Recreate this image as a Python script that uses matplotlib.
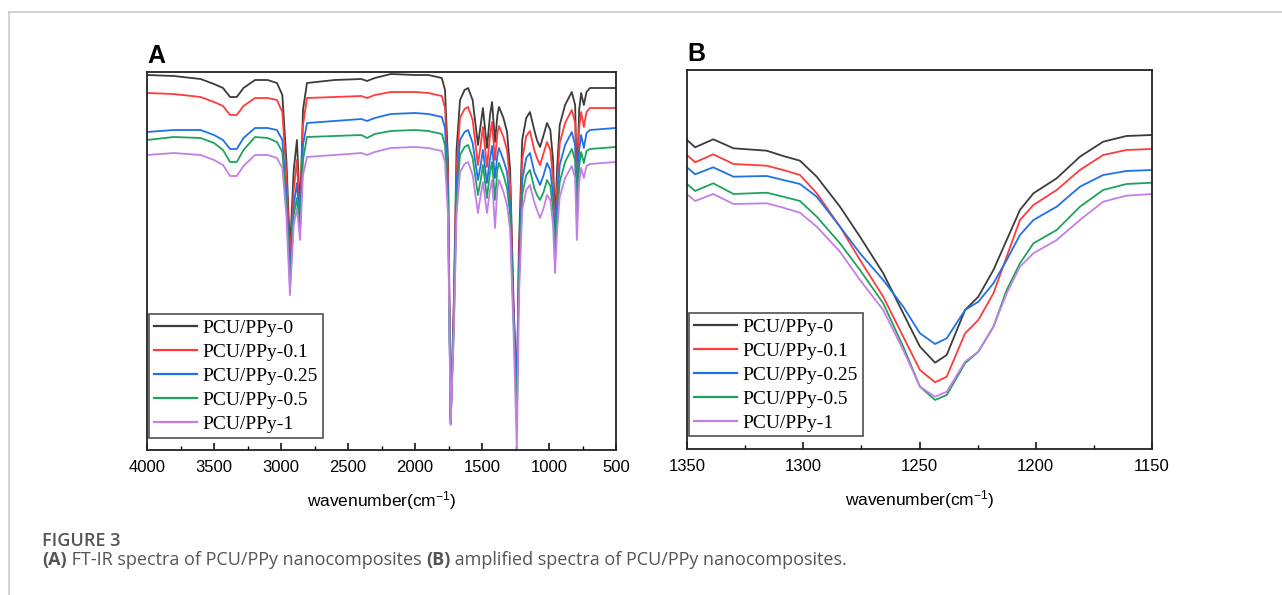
from __future__ import annotations

import matplotlib

matplotlib.use("Agg")
import matplotlib.pyplot as plt
from matplotlib.lines import Line2D
from matplotlib.ticker import MultipleLocator

# ---- data (transmittance in arbitrary units) ----
SERIES_LABELS = ["PCU/PPy-0", "PCU/PPy-0.1", "PCU/PPy-0.25", "PCU/PPy-0.5", "PCU/PPy-1"]
SERIES_COLORS = ["#3c3c3c", "#ff3b3b", "#1f72e6", "#1ea25c", "#c47fe6"]

# panel A: full FT-IR spectra
wavenumber_a = [
    4000, 3800, 3600, 3500, 3433, 3380, 3330, 3280, 3194, 3100,
    3030, 2990, 2960, 2933, 2905, 2881, 2858, 2836, 2806, 2600,
    2400, 2358, 2300, 2180, 2000, 1900, 1800, 1776, 1754, 1734,
    1710, 1690, 1664, 1630, 1604, 1570, 1530, 1510, 1493, 1463,
    1440, 1425, 1403, 1385, 1373, 1340, 1313, 1290, 1265, 1240,
    1225, 1200, 1170, 1142, 1110, 1090, 1067, 1040, 1015, 990,
    970, 955, 940, 920, 880, 830, 805, 792, 775, 760,
    740, 720, 694, 600, 500,
]
pcu_ppy_0_a = [
    375, 374, 371, 366, 362, 353, 353, 362, 370, 370,
    367, 355, 290, 200, 280, 310, 238, 340, 367, 370,
    371, 369, 372, 376, 375, 375, 372, 360, 290, 30,
    150, 300, 350, 360, 362, 350, 305, 325, 342, 302,
    335, 348, 308, 335, 343, 332, 318, 280, 150, 55,
    200, 310, 332, 338, 320, 310, 303, 315, 327, 320,
    290, 225, 280, 325, 345, 358, 345, 265, 340, 357,
    345, 358, 362, 362, 362,
]
pcu_ppy_01_a = [
    357, 356, 353, 348, 344, 335, 335, 344, 352, 352,
    350, 338, 275, 188, 260, 290, 228, 325, 352, 353,
    354, 352, 355, 358, 358, 357, 354, 342, 275, 28,
    140, 282, 332, 341, 343, 330, 285, 305, 323, 283,
    315, 328, 290, 317, 324, 313, 300, 265, 140, 37,
    185, 290, 314, 319, 300, 292, 285, 297, 308, 300,
    272, 215, 262, 307, 327, 340, 327, 250, 322, 338,
    323, 338, 342, 342, 342,
]
pcu_ppy_025_a = [
    318, 320, 320, 315, 310, 301, 301, 312, 322, 322,
    320, 310, 255, 175, 245, 267, 222, 305, 327, 329,
    331, 329, 332, 336, 337, 336, 333, 322, 260, 27,
    130, 265, 310, 318, 320, 307, 270, 285, 300, 267,
    292, 304, 272, 295, 302, 290, 278, 245, 135, 63,
    175, 270, 292, 297, 278, 272, 265, 275, 287, 280,
    254, 205, 245, 285, 305, 318, 305, 238, 300, 315,
    302, 317, 320, 321, 322,
]
pcu_ppy_05_a = [
    310, 313, 312, 307, 300, 288, 288, 300, 313, 312,
    308, 298, 245, 165, 235, 252, 218, 290, 313, 314,
    315, 312, 316, 319, 320, 319, 316, 305, 250, 26,
    125, 250, 295, 303, 305, 292, 255, 270, 285, 252,
    278, 288, 250, 280, 287, 275, 262, 235, 130, 30,
    165, 255, 275, 280, 262, 255, 250, 258, 270, 264,
    240, 195, 232, 268, 288, 301, 290, 228, 284, 298,
    287, 299, 301, 302, 303,
]
pcu_ppy_1_a = [
    295, 297, 295, 290, 285, 274, 274, 284, 295, 295,
    292, 282, 235, 155, 225, 242, 210, 275, 293, 295,
    297, 295, 298, 302, 303, 302, 299, 288, 235, 25,
    120, 235, 278, 286, 288, 275, 237, 255, 268, 237,
    260, 270, 222, 262, 270, 258, 245, 220, 120, 0,
    150, 240, 260, 265, 248, 240, 232, 242, 255, 250,
    225, 177, 218, 253, 272, 284, 272, 210, 268, 282,
    272, 284, 286, 287, 288,
]

# panel B: amplified region around the 1240 cm-1 band
wavenumber_b = [
    1350, 1346.5, 1338.7, 1330, 1315.7, 1308.6, 1301.4, 1294.2, 1284.2, 1275.6,
    1265.6, 1257, 1249.8, 1243.3, 1238.3, 1230.4, 1224.7, 1218.2, 1212.5, 1206.8,
    1201, 1191, 1181, 1171, 1161, 1150,
]
pcu_ppy_0_b = [
    309, 301.7, 309.7, 300.7, 298.3, 293, 288.3, 272.3, 242.3, 212.3,
    175.7, 135.7, 102.3, 86.3, 94, 139, 152.3, 179, 209, 239,
    255.7, 270.7, 292.3, 307.3, 313, 314,
]
pcu_ppy_01_b = [
    294, 286.7, 294.7, 285, 283.3, 279, 274, 255.7, 222.3, 189,
    152.3, 112.3, 79, 66.7, 72.3, 115.7, 129, 155.7, 192.3, 229,
    244, 259, 279, 294, 299, 300,
]
pcu_ppy_025_b = [
    281.7, 274.7, 281.7, 272.3, 273, 269, 265, 252.3, 222.3, 195.7,
    169, 142.3, 115.7, 105, 110.7, 139, 147.3, 165.7, 189, 214,
    229, 242.3, 262.3, 274, 278, 279,
]
pcu_ppy_05_b = [
    265, 258, 265.7, 255, 256.3, 252.3, 248, 232.3, 205.7, 179,
    145.7, 102.3, 62.3, 49, 54, 85.7, 97.3, 122.3, 159, 185.7,
    205.7, 219, 242.3, 259, 265, 266.3,
]
pcu_ppy_1_b = [
    254.7, 248, 255, 245, 245.7, 241.3, 236.3, 222.3, 197.3, 169,
    139, 99, 62.3, 52.3, 57.3, 87.3, 97.3, 122.3, 155.7, 182.3,
    195.7, 209, 229, 247.3, 253.3, 255,
]

SPECTRA_A = [pcu_ppy_0_a, pcu_ppy_01_a, pcu_ppy_025_a, pcu_ppy_05_a, pcu_ppy_1_a]
SPECTRA_B = [pcu_ppy_0_b, pcu_ppy_01_b, pcu_ppy_025_b, pcu_ppy_05_b, pcu_ppy_1_b]

CAPTION_PARTS = [
    ("(A)", "bold"),
    (" FT-IR spectra of PCU/PPy nanocomposites ", "normal"),
    ("(B)", "bold"),
    (" amplified spectra of PCU/PPy nanocomposites.", "normal"),
]

SANS = ["Liberation Sans", "DejaVu Sans"]
SERIF = ["Liberation Serif", "DejaVu Serif"]
CAPTION_FONT = ["Open Sans", "DejaVu Sans"]

plt.rcParams["mathtext.default"] = "regular"
plt.rcParams["font.family"] = SANS

W, H = 1282, 595


def px_axes(fig, left, top, right, bottom):
    return fig.add_axes([left / W, 1 - bottom / H, (right - left) / W, (bottom - top) / H])


def draw_panel(ax, x, spectra, xlim, ylim, major, minor, letter):
    for values, color, label in zip(spectra, SERIES_COLORS, SERIES_LABELS):
        ax.plot(x, values, color=color, lw=1.3, label=label, solid_joinstyle="round")

    ax.set_xlim(*xlim)
    ax.set_ylim(*ylim)
    ax.set_yticks([])
    ax.xaxis.set_major_locator(MultipleLocator(major))
    ax.xaxis.set_minor_locator(MultipleLocator(minor))
    ax.tick_params(axis="x", which="major", direction="in", length=5, width=1.1,
                   labelsize=12, pad=7, top=False)
    ax.tick_params(axis="x", which="minor", direction="in", length=3, width=1.0, top=False)
    for spine in ax.spines.values():
        spine.set_linewidth(1.3)
        spine.set_color("#222222")
    ax.set_xlabel(r"wavenumber(cm$^{-1}$)", fontsize=12.5, labelpad=10)

    handles = [Line2D([], [], color=c, lw=1.6) for c in SERIES_COLORS]
    leg = ax.legend(
        handles, SERIES_LABELS, loc="lower left", bbox_to_anchor=(0.005, 0.033),
        borderaxespad=0, prop={"family": SERIF, "size": 14}, frameon=True,
        fancybox=False, edgecolor="#222222", handlelength=2.2, handletextpad=0.3,
        labelspacing=0.33, borderpad=0.25,
    )
    leg.get_frame().set_linewidth(1.2)

    ax.text(0.0, 1.01, letter, transform=ax.transAxes, fontsize=18, fontweight="bold",
            ha="left", va="bottom", family=SANS)


def draw_caption(fig):
    fig.text(42 / W, 1 - 541 / H, "FIGURE 3", fontsize=13, fontweight="semibold",
             color="#555555", family=CAPTION_FONT, va="center")

    renderer = fig.canvas.get_renderer()
    x = 42 / W
    for part, weight in CAPTION_PARTS:
        t = fig.text(x, 1 - 560 / H, part, fontsize=13, fontweight=weight,
                     color="#555555", family=CAPTION_FONT, va="center")
        bbox = t.get_window_extent(renderer=renderer)
        x = bbox.x1 / W


def main():
    fig = plt.figure(figsize=(W / 100, H / 100), dpi=100, facecolor="white")

    # light page frame
    fig.add_artist(Line2D([9 / W, 9 / W], [0, 1 - 12 / H], transform=fig.transFigure,
                          color="#cccccc", lw=1.2))
    fig.add_artist(Line2D([9 / W, 1], [1 - 12 / H, 1 - 12 / H], transform=fig.transFigure,
                          color="#cccccc", lw=1.2))

    ax_a = px_axes(fig, 147, 72, 616, 450)
    draw_panel(ax_a, wavenumber_a, SPECTRA_A, (4000, 500), (0, 378), 500, 250, "A")

    ax_b = px_axes(fig, 687, 70, 1152, 449)
    draw_panel(ax_b, wavenumber_b, SPECTRA_B, (1350, 1150), (0, 379), 50, 25, "B")

    draw_caption(fig)

    fig.savefig("out.png", dpi=100, facecolor="white")
    plt.close(fig)


if __name__ == "__main__":
    main()
